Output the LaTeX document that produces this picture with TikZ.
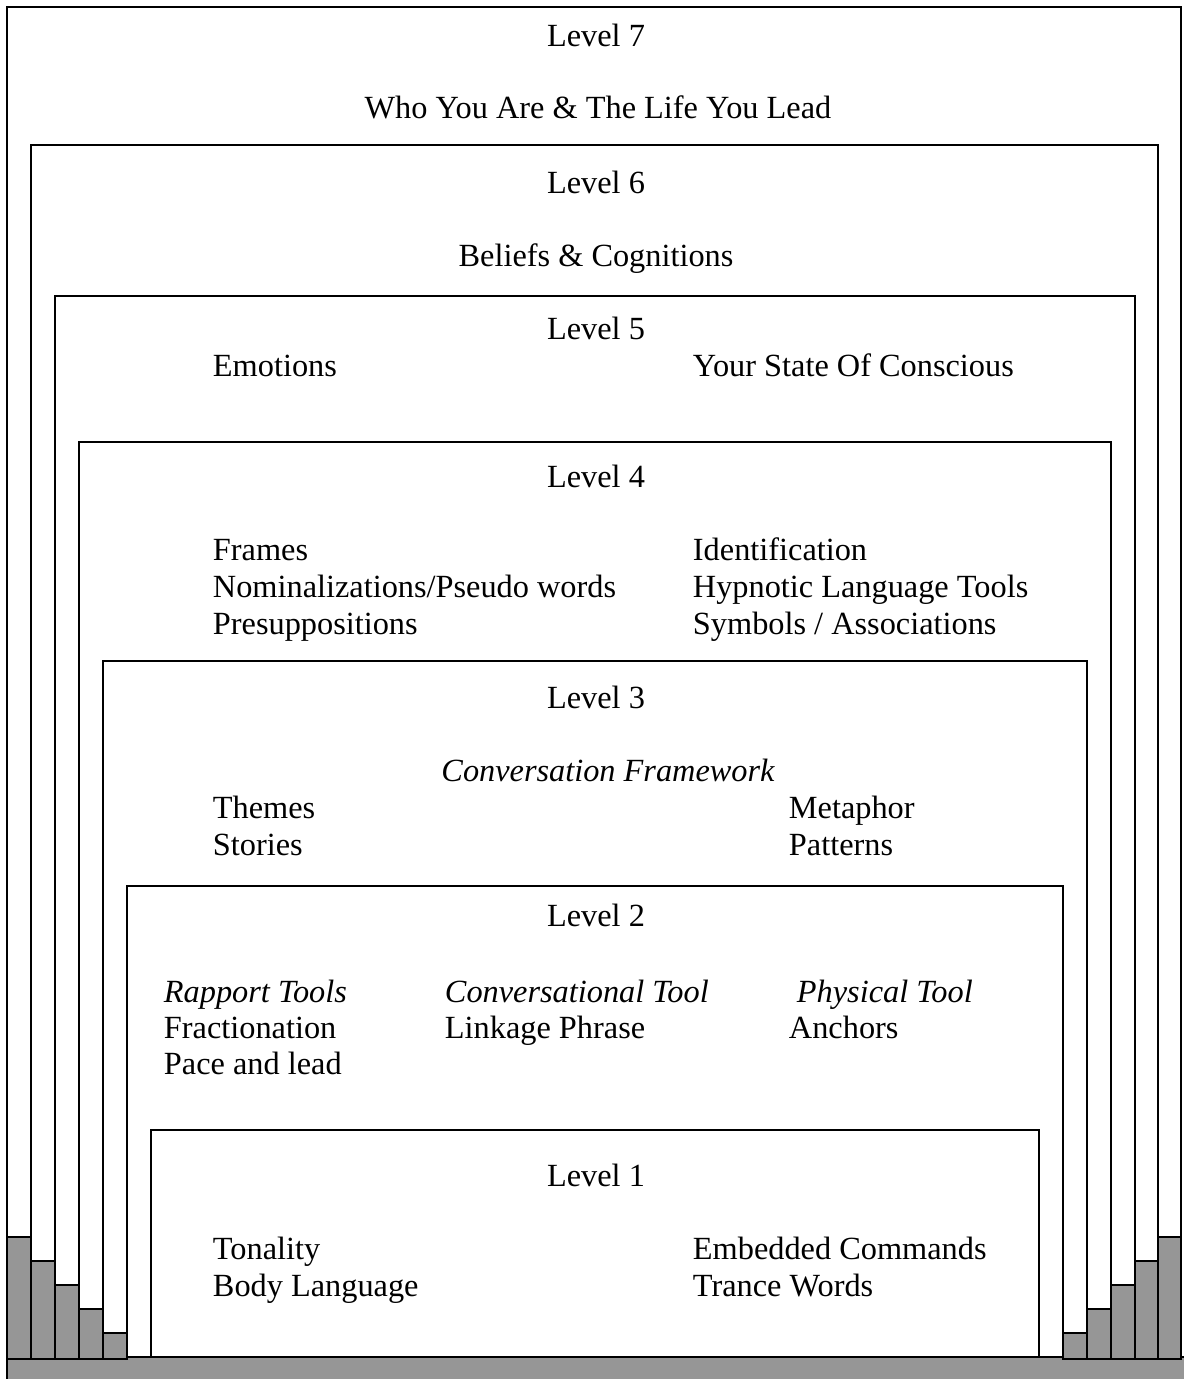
\documentclass[tikz,border=0pt]{standalone}
\usepackage{fontspec}
\setmainfont{Liberation Serif}

\begin{document}
\begin{tikzpicture}[x=0.02cm, y=-0.02cm, line width=1.1pt,
    lvl/.style={font=\fontsize{18.4}{22}\selectfont, inner sep=0pt,
        text height=0.68em, text depth=0.22em, yshift=-0.14cm},
    item/.style={lvl, anchor=west},
    step bar/.style={draw, fill=barGray}]
    \definecolor{barGray}{RGB}{150,150,150}
    \useasboundingbox (0,0) rectangle (1183,1379);

    % Define the corners of the boxes
    \coordinate (box7) at (7, 7);
    \coordinate (box6) at (31, 145);
    \coordinate (box5) at (55, 296);
    \coordinate (box4) at (79, 442);
    \coordinate (box3) at (103, 661);
    \coordinate (box2) at (127, 886);
    \coordinate (box1) at (151, 1130);

    % Draw the grey floor and the steps
    \draw[step bar] (7, 1357) rectangle (1230, 1420);

    \draw[step bar] (7, 1237) rectangle (31, 1359);
    \draw[step bar] (31, 1261) rectangle (55, 1359);
    \draw[step bar] (55, 1285) rectangle (79, 1359);
    \draw[step bar] (79, 1309) rectangle (103, 1359);
    \draw[step bar] (103, 1333) rectangle (127, 1359);

    \draw[step bar] (1063, 1333) rectangle (1087, 1359);
    \draw[step bar] (1087, 1309) rectangle (1111, 1359);
    \draw[step bar] (1111, 1285) rectangle (1135, 1359);
    \draw[step bar] (1135, 1261) rectangle (1158, 1359);
    \draw[step bar] (1158, 1237) rectangle (1181, 1359);

    % Draw the boxes
    \draw (7, 1357) -- (box7) -- (1181, 7) -- (1181, 1357);
    \draw (31, 1357) -- (box6) -- (1158, 145) -- (1158, 1357);
    \draw (55, 1357) -- (box5) -- (1135, 296) -- (1135, 1357);
    \draw (79, 1357) -- (box4) -- (1111, 442) -- (1111, 1357);
    \draw (103, 1357) -- (box3) -- (1087, 661) -- (1087, 1357);
    \draw (127, 1357) -- (box2) -- (1063, 886) -- (1063, 1357);
    \draw (151, 1357) -- (box1) -- (1039, 1130) -- (1039, 1357);

    % Level 7
    \node[lvl] (l7) at (596, 35) {Level 7};
    \node[lvl] (who) at (598, 107) {Who You Are \& The Life You Lead};

    % Level 6
    \node[lvl] (l6) at (596, 182) {Level 6};
    \node[lvl] (beliefs) at (596, 255) {Beliefs \& Cognitions};

    % Level 5
    \node[lvl] (l5) at (596, 328) {Level 5};
    \node[item] (emotions) at (212, 365) {Emotions};
    \node[item] (state) at (692, 365) {Your State Of Conscious};

    % Level 4
    \node[lvl] (l4) at (596, 476) {Level 4};
    \node[item] (frames) at (212, 549) {Frames};
    \node[item] (nominal) at (212, 586) {Nominalizations/Pseudo words};
    \node[item] (presup) at (212, 623) {Presuppositions};
    \node[item] (ident) at (692, 549) {Identification};
    \node[item] (hypno) at (692, 586) {Hypnotic Language Tools};
    \node[item] (symbols) at (692, 623) {Symbols / Associations};

    % Level 3
    \node[lvl] (l3) at (596, 697) {Level 3};
    \node[lvl] (framework) at (608, 770) {\itshape Conversation Framework};
    \node[item] (themes) at (212, 807) {Themes};
    \node[item] (stories) at (212, 844) {Stories};
    \node[item] (metaphor) at (788, 807) {Metaphor};
    \node[item] (patterns) at (788, 844) {Patterns};

    % Level 2
    \node[lvl] (l2) at (596, 915) {Level 2};
    \node[item] (rapport) at (163, 991) {\itshape Rapport Tools};
    \node[item] (convtool) at (444, 991) {\itshape Conversational Tool};
    \node[item] (phystool) at (796, 991) {\itshape Physical Tool};
    \node[item] (fraction) at (163, 1027) {Fractionation};
    \node[item] (pace) at (163, 1063) {Pace and lead};
    \node[item] (linkage) at (444, 1027) {Linkage Phrase};
    \node[item] (anchors) at (788, 1027) {Anchors};

    % Level 1
    \node[lvl] (l1) at (596, 1175) {Level 1};
    \node[item] (tonality) at (212, 1248) {Tonality};
    \node[item] (body) at (212, 1285) {Body Language};
    \node[item] (embedded) at (692, 1248) {Embedded Commands};
    \node[item] (trance) at (692, 1285) {Trance Words};

\end{tikzpicture}
\end{document}
